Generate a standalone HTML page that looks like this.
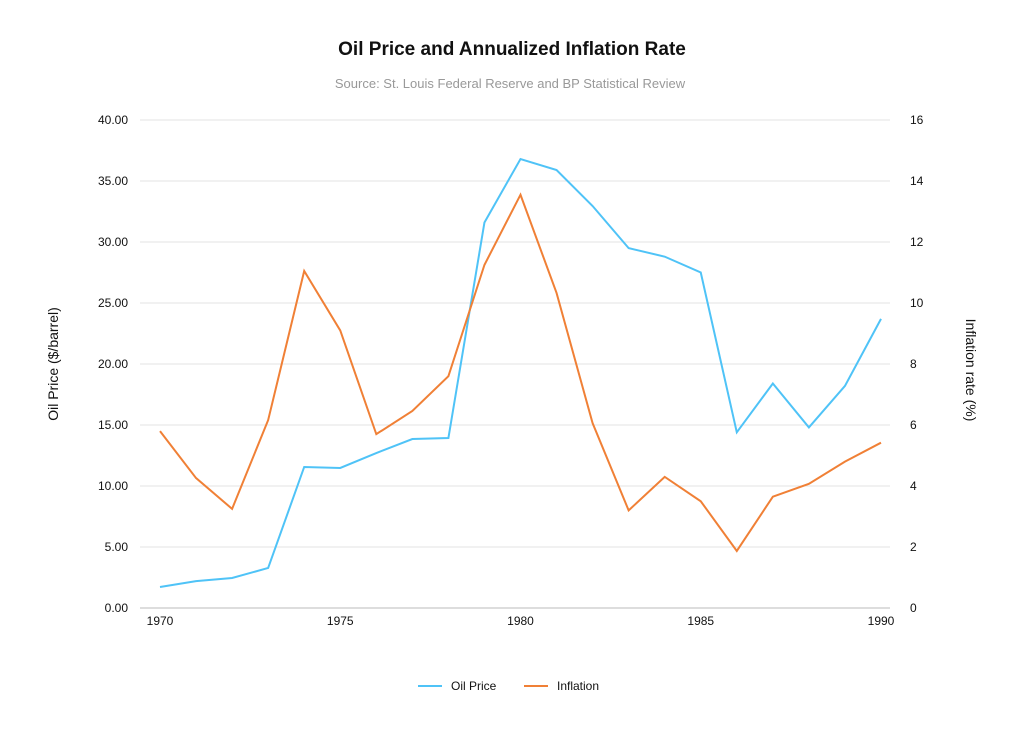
<!DOCTYPE html>
<html><head><meta charset="utf-8"><style>
body{margin:0;background:#fff;font-family:"Liberation Sans",sans-serif;}
svg text{font-family:"Liberation Sans",sans-serif;}
</style></head><body>
<svg id="chart" width="1024" height="729">
<text x="512" y="55" text-anchor="middle" font-size="19" font-weight="bold" fill="#111">Oil Price and Annualized Inflation Rate</text>
<text x="510" y="88" text-anchor="middle" font-size="13" fill="#999">Source: St. Louis Federal Reserve and BP Statistical Review</text>
<g id="grid"></g><g id="axes"></g><g id="series"></g>
<text transform="translate(58,364) rotate(-90)" text-anchor="middle" font-size="14" fill="#111">Oil Price ($/barrel)</text>
<text transform="translate(966,370) rotate(90)" text-anchor="middle" font-size="14" fill="#111">Inflation rate (%)</text>
<g><line x1="418" y1="686" x2="442" y2="686" stroke="#4fc3f7" stroke-width="2"/><text x="451" y="690" font-size="12" fill="#111">Oil Price</text></g>
<g><line x1="524" y1="686" x2="548" y2="686" stroke="#f08036" stroke-width="2"/><text x="557" y="690" font-size="12" fill="#111">Inflation</text></g>
</svg>
<script>
const years=[1970,1971,1972,1973,1974,1975,1976,1977,1978,1979,1980,1981,1982,1983,1984,1985,1986,1987,1988,1989,1990];
const oilPrice=[1.72,2.2,2.46,3.28,11.56,11.48,12.7,13.85,13.93,31.6,36.8,35.9,32.95,29.5,28.8,27.5,14.4,18.4,14.8,18.2,23.7];
const inflation=[5.8,4.26,3.25,6.16,11.05,9.1,5.7,6.46,7.6,11.25,13.55,10.33,6.06,3.2,4.3,3.5,1.87,3.65,4.07,4.8,5.42];
const leftTicks=[0,5,10,15,20,25,30,35,40];
const rightTicks=[0,2,4,6,8,10,12,14,16];
const xTicks=[1970,1975,1980,1985,1990];
const NS="http://www.w3.org/2000/svg";
const X=y=>160+(y-1970)*(881-160)/20;
const YL=v=>608-v*(608-120)/40;
const YR=v=>608-v*(608-120)/16;
function mk(tag,attrs,parent,txt){const e=document.createElementNS(NS,tag);for(const k in attrs)e.setAttribute(k,attrs[k]);if(txt!==undefined)e.textContent=txt;document.getElementById(parent).appendChild(e);return e;}
leftTicks.forEach((t,i)=>{
 const g=mk('line',{x1:140,x2:890,y1:YL(t),y2:YL(t),stroke:i==0?'#bbb':'#e3e3e3','stroke-width':1},'grid');
 
 
 const l=mk('text',{x:128,y:YL(t)+4,'text-anchor':'end','font-size':12,fill:'#111'},'axes',t.toFixed(2));
 
 
});
rightTicks.forEach(t=>{
 const l=mk('text',{x:910,y:YR(t)+4,'text-anchor':'start','font-size':12,fill:'#111'},'axes',String(t));
 
 
});
xTicks.forEach(t=>{
 const l=mk('text',{x:X(t),y:625,'text-anchor':'middle','font-size':12,fill:'#111'},'axes',String(t));
 
 
});
const p1=mk('polyline',{points:years.map((y,i)=>X(y)+','+YL(oilPrice[i])).join(' '),fill:'none',stroke:'#4fc3f7','stroke-width':2},'series');


const p2=mk('polyline',{points:years.map((y,i)=>X(y)+','+YR(inflation[i])).join(' '),fill:'none',stroke:'#f08036','stroke-width':2},'series');


</script>
</body></html>
